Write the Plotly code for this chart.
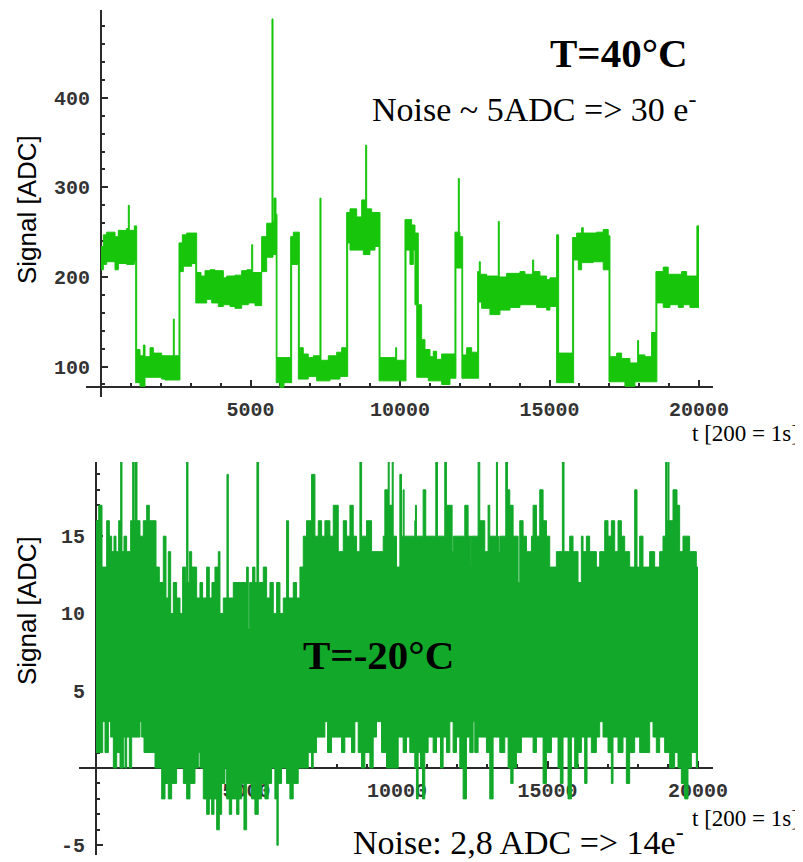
import plotly.graph_objects as go

# readings taken off the two scope traces: (t, ADC) breakpoints of the
# upper and lower edges of the noise band, held until the next breakpoint
top_upper = [
    (0, 234), (78, 247), (190, 250), (468, 245), (580, 252), (858, 254), (914, 280), (946, 252),
    (1114, 257), (1193, 119), (1304, 112), (1416, 124), (1471, 111), (1639, 121), (1750, 115),
    (2029, 112), (2419, 153), (2450, 112), (2608, 238), (2720, 247), (2865, 249), (3199, 205),
    (3344, 201), (3478, 207), (3645, 208), (3812, 207), (4091, 199), (4203, 201), (4481, 202),
    (4704, 207), (4872, 208), (5039, 236), (5073, 205), (5373, 245), (5541, 260), (5718, 488),
    (5752, 262), (5785, 288), (5852, 270), (5885, 110), (6343, 245), (6431, 250), (6632, 121),
    (6765, 114), (6932, 110), (7100, 112), (7323, 288), (7357, 107), (7602, 112), (7882, 116),
    (8049, 121), (8216, 272), (8327, 276), (8551, 267), (8718, 286), (8852, 347), (8885, 276),
    (9052, 272), (9330, 110), (9855, 121), (9888, 107), (10166, 264), (10389, 258), (10500, 249),
    (10611, 169), (10723, 130), (10835, 119), (11002, 111), (11113, 117), (11225, 108),
    (11393, 114), (11838, 250), (11950, 310), (11983, 250), (12005, 245), (12096, 113),
    (12229, 121), (12396, 116), (12597, 206), (12651, 217), (12685, 203), (12898, 201),
    (13287, 262), (13320, 200), (13567, 204), (14011, 206), (14178, 203), (14436, 219),
    (14470, 206), (14680, 201), (14904, 197), (15014, 199), (15238, 247), (15305, 115),
    (15773, 244), (15907, 249), (16074, 255), (16129, 249), (16576, 250), (16797, 253),
    (16964, 246), (17021, 111), (17245, 115), (17412, 109), (17690, 104), (17947, 129),
    (17980, 113), (18191, 111), (18415, 138), (18559, 206), (18803, 211), (18970, 203),
    (19419, 206), (19586, 201), (19930, 257), (20000, 257),
]
top_lower = [
    (0, 208), (78, 214), (190, 217), (468, 208), (580, 215), (858, 214), (1114, 217), (1160, 82),
    (1304, 78), (1471, 88), (2029, 86), (2140, 85), (2640, 206), (2753, 212), (3032, 215),
    (3170, 171), (3534, 175), (3701, 171), (3924, 167), (4091, 169), (4314, 167), (4481, 165),
    (4704, 169), (4927, 171), (5150, 168), (5373, 206), (5541, 222), (5752, 225), (5860, 82),
    (5986, 77), (6120, 82), (6376, 214), (6600, 86), (6932, 89), (7212, 84), (7658, 86),
    (7992, 89), (8250, 238), (8327, 230), (8774, 225), (8995, 230), (9163, 234), (9300, 84),
    (10200, 230), (10333, 214), (10445, 230), (10500, 169), (10560, 88), (10946, 84),
    (11393, 80), (11671, 87), (11870, 210), (12070, 87), (12630, 172), (12730, 165),
    (13008, 158), (13342, 163), (13677, 166), (14011, 169), (14570, 166), (14904, 163),
    (15014, 167), (15238, 82), (15806, 219), (15963, 208), (16074, 216), (16464, 217),
    (16797, 208), (16990, 83), (17523, 78), (17857, 83), (18590, 171), (18803, 166),
    (19028, 169), (19307, 166), (19474, 169), (19696, 166), (20000, 166),
]

bottom_upper = [
    (0, 16), (89, 17), (199, 13), (354, 16), (443, 15), (520, 14), (598, 15), (664, 14), (753, 16),
    (819, 20), (863, 14), (930, 15), (1018, 14), (1151, 16), (1218, 20), (1262, 16), (1295, 20),
    (1362, 16), (1461, 15), (1572, 16), (1683, 17), (1771, 16), (1993, 13), (2103, 12), (2236, 15),
    (2325, 11), (2402, 14), (2480, 10), (2568, 12), (2679, 11), (2790, 10), (2878, 13), (2978, 12),
    (3011, 20), (3055, 12), (3100, 14), (3177, 13), (3343, 11), (3454, 12), (3542, 11), (3675, 13),
    (3764, 11), (3852, 12), (3952, 13), (4063, 14), (4118, 10), (4229, 11), (4351, 19), (4395, 11),
    (4561, 12), (5004, 13), (5059, 9), (5103, 12), (5203, 13), (5280, 12), (5347, 20), (5402, 12),
    (5557, 13), (5668, 11), (5779, 12), (5889, 10), (6000, 12), (6111, 10), (6222, 11), (6332, 16),
    (6398, 11), (6553, 12), (6664, 11), (6775, 13), (6886, 15), (6996, 16), (7162, 19), (7273, 15),
    (7384, 16), (7494, 15), (7605, 16), (7771, 15), (7882, 17), (8048, 14), (8214, 16), (8325, 15),
    (8436, 17), (8546, 15), (8657, 14), (8768, 20), (8823, 15), (8989, 16), (9155, 14), (9542, 15),
    (9596, 18), (9707, 20), (9740, 17), (9840, 20), (9873, 15), (9984, 13), (10095, 19),
    (10150, 15), (10204, 18), (10237, 15), (10591, 16), (10613, 17), (10646, 15), (10868, 18),
    (10956, 15), (11289, 20), (11344, 15), (11587, 20), (11643, 17), (11831, 14), (11864, 15),
    (12252, 17), (12362, 15), (12451, 13), (12473, 15), (12694, 20), (12750, 16), (12916, 14),
    (13026, 17), (13082, 15), (13303, 20), (13337, 15), (13370, 14), (13414, 15), (13613, 20),
    (13669, 18), (13746, 17), (13857, 15), (14023, 12), (14078, 16), (14189, 15), (14300, 14),
    (14466, 15), (14521, 17), (14632, 15), (14742, 18), (14853, 16), (14964, 15), (15073, 13),
    (15294, 14), (15494, 20), (15549, 14), (15737, 15), (15848, 14), (16014, 12), (16125, 15),
    (16180, 14), (16291, 15), (16401, 14), (16623, 13), (16734, 14), (16900, 16), (17010, 15),
    (17121, 16), (17232, 14), (17343, 16), (17453, 15), (17564, 14), (17730, 13), (17896, 18),
    (17973, 13), (18062, 15), (18172, 13), (18394, 14), (18560, 13), (18726, 14), (18837, 15),
    (18925, 20), (18970, 16), (19003, 20), (19036, 16), (19169, 18), (19302, 17), (19390, 14),
    (19501, 15), (19722, 14), (19944, 13), (20000, 13),
]
bottom_lower = [
    (0, 1), (222, 3), (299, 1), (410, 3), (487, 2), (576, 0), (687, 1), (797, 0), (908, 2), (963, 0),
    (1019, 2), (1107, 0), (1185, 2), (1462, 3), (1517, 2), (1594, 1), (1960, 0), (2181, -2),
    (2292, -1), (2402, -2), (2513, -1), (2679, 0), (2901, -1), (3011, -2), (3122, -1), (3288, 0),
    (3399, 1), (3454, 0), (3565, -2), (3676, -3), (3764, -2), (3842, -3), (3919, -2), (4008, -4),
    (4096, -3), (4174, -1), (4284, 0), (4340, -2), (4428, -3), (4506, -2), (4672, -3), (4749, -2),
    (4838, -1), (4915, -4), (5004, -1), (5168, -2), (5279, -3), (5390, -2), (5500, -1), (5611, -2),
    (5722, -1), (5833, 0), (5943, -2), (6010, -5), (6054, -1), (6165, 0), (6331, -1), (6442, -2),
    (6552, -1), (6718, 0), (7050, 1), (7161, 0), (7216, 1), (7327, 2), (7604, 3), (7692, 1),
    (7825, 2), (8157, 1), (8268, 2), (8489, 1), (8600, 3), (8711, 1), (8822, 0), (8932, 1),
    (9098, 0), (9209, 2), (9320, 3), (9486, 1), (9652, 0), (10039, 2), (10204, 1), (10314, 2),
    (10425, 1), (10591, 0), (10646, -2), (10702, 1), (10779, 0), (10846, -2), (10923, 1),
    (11034, 2), (11200, 1), (11311, 2), (11444, 0), (11532, 2), (11643, 1), (11754, 3), (11864, 1),
    (11975, 2), (12086, 0), (12196, -2), (12307, 2), (12418, 1), (12529, 3), (12584, 1), (12694, 2),
    (12971, 1), (13082, -2), (13193, 2), (13414, 1), (13580, 2), (13691, 0), (13779, -1),
    (13857, 0), (13968, 1), (14134, 2), (14521, 1), (14632, 2), (14853, -1), (14964, 1), (15130, 2),
    (15350, 0), (15427, -1), (15516, 2), (15682, -2), (15793, 2), (15903, 0), (16014, 1),
    (16125, 2), (16235, -1), (16313, 2), (16457, 1), (16623, 2), (16734, 3), (16844, 2), (17010, 1),
    (17121, -1), (17176, 2), (17342, 1), (17508, 2), (17619, -1), (17730, 1), (17896, 2),
    (18062, 1), (18394, 3), (18505, 2), (18615, 1), (18726, 2), (18892, 1), (19058, 0), (19224, 1),
    (19335, 0), (19446, -1), (19556, -2), (19667, 0), (19778, 1), (19944, 0), (20000, 0),
]

t_ticks = [5000, 10000, 15000, 20000]
top_y_ticks = [100, 200, 300, 400]
bottom_y_ticks = [-5, 5, 10, 15]

TOP_GREEN = "#17c50b"
BOTTOM_GREEN = "#12a82a"
AX = "#2a2a2a"
# the page body keeps its default 8px margin, so the figure is drawn 8px in
OFF = 8
W, H = 803 - OFF, 862 - OFF


def px_x(p):
    return (p - OFF) / W


def px_y(p):
    return 1 - (p - OFF) / H


def band(fig, upper, lower, color, xa, ya):
    tl, yl = zip(*lower)
    tu, yu = zip(*upper)
    fig.add_trace(go.Scatter(x=tl, y=yl, mode="lines", xaxis=xa, yaxis=ya,
                             line=dict(shape="hv", width=1, color=color),
                             hoverinfo="skip", showlegend=False))
    fig.add_trace(go.Scatter(x=tu, y=yu, mode="lines", xaxis=xa, yaxis=ya,
                             line=dict(shape="hv", width=1, color=color),
                             fill="tonexty", fillcolor=color,
                             hoverinfo="skip", showlegend=False))


fig = go.Figure()
band(fig, top_upper, top_lower, TOP_GREEN, "x", "y")
band(fig, bottom_upper, bottom_lower, BOTTOM_GREEN, "x2", "y2")

tickfont = dict(family="Liberation Mono", size=20, color="#333", weight="bold")
minor_style = dict(ticks="inside", ticklen=3, tickcolor=AX, tickwidth=1.5)
common = dict(showline=True, linecolor=AX, linewidth=2, ticks="inside", ticklen=6,
              tickwidth=1.5, tickcolor=AX, showgrid=False, zeroline=False,
              tickfont=tickfont, layer="below traces", anchor="free", automargin=False)

fig.update_layout(
    width=W, height=H, margin=dict(l=0, r=0, t=0, b=0, autoexpand=False),
    paper_bgcolor="white", plot_bgcolor="white", hovermode=False,
    xaxis=dict(common, domain=[px_x(86), px_x(713)], range=[-502, 20468],
               position=px_y(387), tickvals=t_ticks, ticktext=[str(v) for v in t_ticks],
               ticklabelstandoff=4, minor=dict(minor_style, dtick=1000, tick0=0)),
    yaxis=dict(common, domain=[px_y(397), px_y(10)], range=[66, 498],
               position=px_x(101), tickvals=top_y_ticks, ticktext=[str(v) for v in top_y_ticks],
               ticklabelstandoff=6, minor=dict(minor_style, dtick=20, tick0=0)),
    xaxis2=dict(common, domain=[px_x(79), px_x(713)], range=[-565, 20498],
                position=px_y(768), tickvals=t_ticks, ticktext=[str(v) for v in t_ticks],
                ticklabelstandoff=4, minor=dict(minor_style, dtick=1000, tick0=0)),
    yaxis2=dict(common, domain=[px_y(855), px_y(462)], range=[-5.63, 19.8],
                position=px_x(96), tickvals=bottom_y_ticks, ticktext=[str(v) for v in bottom_y_ticks],
                ticklabelstandoff=6, minor=dict(minor_style, dtick=1, tick0=0)),
)

serif = "Liberation Serif"
notes = [
    dict(text="<b>T=40°C</b>", x=619, y=53, size=41, xanchor="center"),
    dict(text="Noise ~ 5ADC =&gt; 30 e<sup>-</sup>", x=371, y=107, size=34, xanchor="left"),
    dict(text="t [200 = 1s]", x=800, y=433, size=23, xanchor="right"),
    dict(text="<b>T=-20°C</b>", x=378, y=655, size=41, xanchor="center"),
    dict(text="Noise: 2,8 ADC =&gt; 14e<sup>-</sup>", x=352, y=840, size=34, xanchor="left"),
    dict(text="t [200 = 1s]", x=800, y=818, size=23, xanchor="right"),
]
for n in notes:
    fig.add_annotation(text=n["text"], x=px_x(n["x"]), y=px_y(n["y"]), xref="paper", yref="paper",
                       xanchor=n["xanchor"], yanchor="middle", showarrow=False, borderpad=0,
                       font=dict(family=serif, size=n["size"], color="black"))

for yc in (210, 611):
    fig.add_annotation(text="Signal [ADC]", x=px_x(27), y=px_y(yc), xref="paper", yref="paper",
                       textangle=-90, showarrow=False, xanchor="center", yanchor="middle",
                       font=dict(family="Liberation Sans", size=26, color="black"))

fig.write_html("out.html")
